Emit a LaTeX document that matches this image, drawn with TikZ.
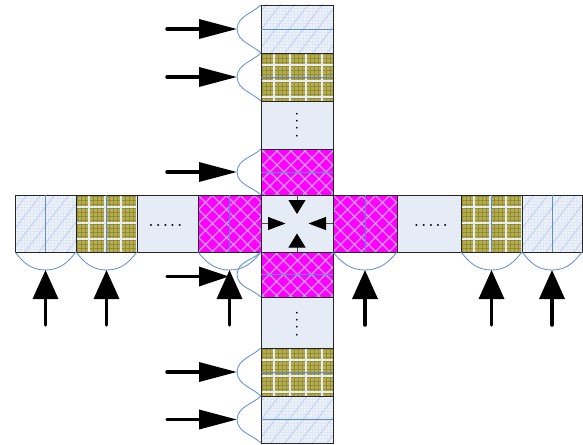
\documentclass[tikz,border=0pt]{standalone}
\usetikzlibrary{arrows.meta,calc}
\definecolor{lbbg}{HTML}{EEF3FB}
\definecolor{lbgrid}{HTML}{DFE7F5}
\definecolor{lbdiag}{HTML}{C3D3EF}
\definecolor{olbg}{HTML}{B6AF52}
\definecolor{olgrid}{HTML}{938B36}
\definecolor{ollight}{HTML}{E6ECF2}
\definecolor{mgbg}{HTML}{FF00FF}
\definecolor{mgline}{HTML}{CE9CF0}
\definecolor{plainbg}{HTML}{E6ECF6}
\definecolor{bluel}{HTML}{5B8BD0}
\tikzset{
  cellbox/.style={draw=black!85, line width=0.9pt, inner sep=0pt, outer sep=0pt},
  vcell/.style={cellbox, minimum width=72pt, minimum height=#1},
  hcell/.style={cellbox, minimum height=57pt, minimum width=#1},
  lbpat/.style={path picture={
    \fill[lbbg] (path picture bounding box.south west) rectangle (path picture bounding box.north east);
    \foreach \k in {0,3,...,75} \draw[lbgrid, line width=0.3pt] ($(path picture bounding box.north west)+(\k,0)$) -- ++(0,70);
    \foreach \k in {0,3,...,66} \draw[lbgrid, line width=0.3pt] ($(path picture bounding box.north west)+(0,\k)$) -- ++(80,0);
    \foreach \k in {-60,-46,...,90} \draw[lbdiag, line width=1pt] ($(path picture bounding box.south west)+(\k,0)$) -- ++(50,-65);
  }},
  olpat/.style={path picture={
    \fill[olbg] (path picture bounding box.south west) rectangle (path picture bounding box.north east);
    \foreach \k in {1,5,...,77} \draw[olgrid, line width=0.35pt] ($(path picture bounding box.north west)+(\k,0)$) -- ++(0,70);
    \foreach \k in {1,5,...,69} \draw[olgrid, line width=0.35pt] ($(path picture bounding box.north west)+(0,\k)$) -- ++(80,0);
    \foreach \k in {13,29,...,77} \draw[ollight, line width=1.5pt] ($(path picture bounding box.north west)+(\k,0)$) -- ++(0,70);
    \foreach \k in {12,28,...,69} \draw[ollight, line width=1.5pt] ($(path picture bounding box.north west)+(0,\k)$) -- ++(80,0);
  }},
  mgpat/.style={path picture={
    \fill[mgbg] (path picture bounding box.south west) rectangle (path picture bounding box.north east);
    \foreach \k in {-70,-56,...,100} {
      \draw[mgline, line width=1.3pt] ($(path picture bounding box.south west)+(\k,0)$) -- ++(70,-70);
      \draw[mgline, line width=1.3pt] ($(path picture bounding box.north west)+(\k,0)$) -- ++(70,70);
    }
  }},
  midline/.style={draw=bluel, line width=0.8pt},
  brace/.style={draw=bluel, line width=0.8pt},
  bigarrowH/.style={line width=3.5pt, line cap=round, -{Triangle[length=38pt,width=19pt]}},
  bigarrowHs/.style={line width=3.5pt, line cap=round, -{Triangle[length=30pt,width=19pt]}},
  bigarrowV/.style={line width=3.5pt, line cap=round, -{Triangle[length=29pt,width=25pt]}},
  stubV/.style={draw=black!70, line width=0.8pt, -{Triangle[length=14pt,width=17pt,color=black]}},
  stubH/.style={draw=black!70, line width=0.8pt, -{Triangle[length=17.5pt,width=13pt,color=black]}},
  dotsH/.style={inner sep=0pt, anchor=base, font=\fontsize{14}{14}\selectfont\bfseries},
  dotsV/.style={inner sep=0pt, align=center, font=\fontsize{6}{7.3}\selectfont}
}
\begin{document}
\begin{tikzpicture}[x=1pt,y=-1pt]
\useasboundingbox (0,0) rectangle (583,444);
% vertical column
\node[vcell=48pt, lbpat] (v1) at (297,29) {};
\node[vcell=48pt, olpat] (v2) at (297,77) {};
\node[vcell=48pt, fill=plainbg] (v3) at (297,125) {};
\node[vcell=46pt, mgpat] (v4) at (297,172) {};
\node[vcell=45pt, mgpat] (v5) at (297,274.5) {};
\node[vcell=51pt, fill=plainbg] (v6) at (297,322.5) {};
\node[vcell=48pt, olpat] (v7) at (297,372) {};
\node[vcell=47pt, lbpat] (v8) at (297,419.5) {};
% horizontal row
\node[hcell=61pt, lbpat] (h1) at (45.5,223.5) {};
\node[hcell=61pt, olpat] (h2) at (106.5,223.5) {};
\node[hcell=61pt, fill=plainbg] (h3) at (167.5,223.5) {};
\node[hcell=63pt, mgpat] (h4) at (229.5,223.5) {};
\node[hcell=64pt, mgpat] (h5) at (365,223.5) {};
\node[hcell=64pt, fill=plainbg] (h6) at (429,223.5) {};
\node[hcell=61pt, olpat] (h7) at (491.5,223.5) {};
\node[hcell=60pt, lbpat] (h8) at (552,223.5) {};
% centre
\node[cellbox, minimum width=72pt, minimum height=57pt, fill=plainbg] (c) at (297,223.5) {};
% mid lines
\foreach \n in {v1,v2,v4,v5,v7,v8} \draw[midline] (\n.west) -- (\n.east);
\foreach \n in {h1,h2,h4,h5,h7,h8} \draw[midline] (\n.north) -- (\n.south);
% dots
\node[dotsH] (d3) at ($(h3.center)+(-2,3)$) {.\hspace{2.8pt}.\hspace{2.8pt}.\hspace{2.8pt}.\hspace{2.8pt}.};
\node[dotsH] (d6) at ($(h6.center)+(2,3)$) {.\hspace{2.8pt}.\hspace{2.8pt}.\hspace{2.8pt}.\hspace{2.8pt}.};
\node[dotsV] (e3) at (v3.center) {\textbullet\\\textbullet\\\textbullet\\\textbullet};
\node[dotsV] (e6) at ($(v6.center)+(0,1.5)$) {\textbullet\\\textbullet\\\textbullet\\\textbullet};
% braces
\foreach \n in {v1,v2,v4,v5,v7,v8} {
  \coordinate (\n-t) at ($(\n.west)+(-24,0)$);
  \draw[brace] (\n.north west) .. controls +(-10,9) and +(1,-13) .. (\n-t) .. controls +(1,13) and +(-10,-9) .. (\n.south west);
}
\foreach \n in {h1,h2,h4,h5,h7,h8} {
  \coordinate (\n-t) at ($(\n.south)+(0,18)$);
  \draw[brace] (\n.south west) .. controls +(8,10) and +(-15,0) .. (\n-t) .. controls +(15,0) and +(-8,10) .. (\n.south east);
}
% big arrows
\foreach \n in {v1,v2,v4,v7,v8} {
  \coordinate (\n-s) at ($(\n-t)+(-70,0)$);
  \draw[bigarrowH] (\n-s) -- (\n-t);
}
\coordinate (v5-s) at ($(v5-t)+(-70,2)$);
\coordinate (v5-e) at ($(v5-t)+(-8,2)$);
\draw[bigarrowHs] (v5-s) -- (v5-e);
\foreach \n in {h1,h2,h4,h5,h7,h8} {
  \coordinate (\n-s) at ($(\n-t)+(0,55)$);
  \draw[bigarrowV] (\n-s) -- (\n-t);
}
% centre arrows
\coordinate (cT) at ($(c.center)+(0,-9.5)$);
\coordinate (cB) at ($(c.center)+(0,10)$);
\coordinate (cL) at ($(c.center)+(-11.5,0)$);
\coordinate (cR) at ($(c.center)+(11.5,0)$);
\draw[stubV] (c.north) -- (cT);
\draw[stubV] (c.south) -- (cB);
\draw[stubH] (c.west) -- (cL);
\draw[stubH] (c.east) -- (cR);
\end{tikzpicture}
\end{document}
